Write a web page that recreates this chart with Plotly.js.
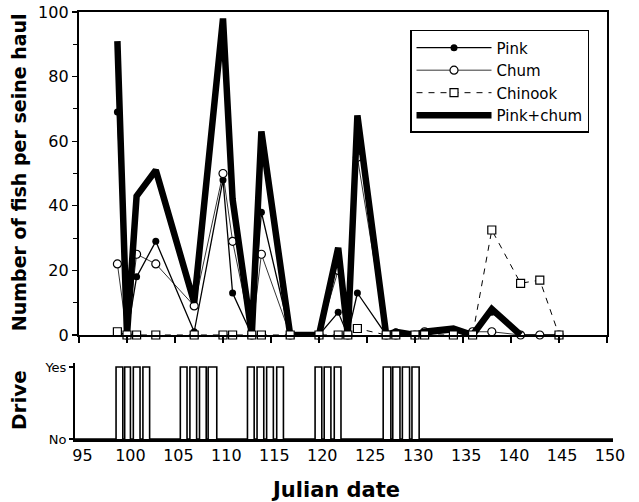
<!DOCTYPE html>
<html><head><meta charset="utf-8">
<script src="https://cdn.plot.ly/plotly-3.0.1.min.js"></script>
<style>html,body{margin:0;padding:0;background:#fff}#chart{width:639px;height:502px}</style>
</head><body><div id="chart"></div>
<script>
// Sampling days (Julian date)
const days = [99,100,101,103,107,110,111,113,114,117,120,122,123,124,127,128,130,131,134,136,138,141,143,145];
const pink     = [69,0,18,29,1,48,13,0,38,0,0,7,0,13,0,1,0,0,1,0,7,0,0,0];
const chum     = [22,0,25,22,9,50,29,0,25,0,0,20,0,55,0,0,0,1,1,1,1,0,0,0];
const chinook  = [1,0,0,0,0,0,0,0,0,0,0,0,0,2,0,0,0,0,0,0,32.5,16,17,0];
const pcDays   = [99,100,101,103,107,110,111,113,114,117,120,122,123,124,127,128,130,131,134,136,138,141];
const pinkChum = [91,0,43,51,10,98,42,0,63,0,0,27,0,68,0,1,0,1,2,0,8,0];
// Drive = Yes intervals [start, end]
const driveStart = [98.5,99.4,100.3,101.3,105.2,106.2,107.2,108.1,112.2,113.2,114.2,115.25,119.25,120.2,121.25,126.35,127.35,128.35,129.35];
const driveEnd   = [99.2,100.0,101.0,102.0,105.9,106.9,107.9,109.0,112.9,113.9,114.9,115.95,119.95,120.9,121.95,127.15,128.1,129.1,130.1];
const xTicks = [95,100,105,110,115,120,125,130,135,140,145,150];
const yTicks = [0,20,40,60,80,100];

const FONT = "DejaVu Sans, sans-serif";
const xMin2 = 94.22, xMax2 = 150.31;
const dx = [xMin2], dy = [0];
for (let i = 0; i < driveStart.length; i++) {
  dx.push(driveStart[i], driveStart[i], driveEnd[i], driveEnd[i]);
  dy.push(0, 1, 1, 0);
}
dx.push(xMax2); dy.push(0);

const traces = [
  {x: days, y: pink, name: 'Pink', mode: 'lines+markers', legendrank: 1,
   line: {color: '#000', width: 1.3}, marker: {symbol: 'circle', size: 7, color: '#000'},
   xaxis: 'x', yaxis: 'y', cliponaxis: false},
  {x: days, y: chum, name: 'Chum', mode: 'lines+markers', legendrank: 2,
   line: {color: '#000', width: 0.8}, marker: {symbol: 'circle', size: 8, color: '#fff', line: {color: '#000', width: 1.2}},
   xaxis: 'x', yaxis: 'y', cliponaxis: false},
  {x: pcDays, y: pinkChum, name: 'Pink+chum', mode: 'lines', legendrank: 4,
   line: {color: '#000', width: 6.5}, xaxis: 'x', yaxis: 'y', cliponaxis: false},
  {x: days, y: chinook, name: 'Chinook', mode: 'lines+markers', legendrank: 3,
   line: {color: '#000', width: 1, dash: '6px,6px'}, marker: {symbol: 'square', size: 8, color: '#fff', line: {color: '#000', width: 1.2}},
   xaxis: 'x', yaxis: 'y', cliponaxis: false},
  {x: dx, y: dy, mode: 'lines', showlegend: false, line: {color: '#000', width: 1.6},
   xaxis: 'x2', yaxis: 'y2', cliponaxis: false, hoverinfo: 'skip'}
];

const layout = {
  width: 639, height: 502,
  margin: {l: 75, r: 26, t: 12, b: 63},
  paper_bgcolor: '#fff', plot_bgcolor: 'rgba(0,0,0,0)',
  font: {family: FONT, color: '#000', size: 16},
  showlegend: true,
  legend: {x: 0.6227, y: 0.958, xanchor: 'left', yanchor: 'top', bgcolor: '#fff',
           bordercolor: '#000', borderwidth: 1.5, font: {family: FONT, size: 15},
           tracegroupgap: 0, itemwidth: 75},
  xaxis: {domain: [0.00743, 0.98885], range: [95, 150], anchor: 'y',
          showline: true, linecolor: '#000', linewidth: 2.5, mirror: true,
          ticks: 'outside', ticklen: 6, tickwidth: 1.2, tickcolor: '#000',
          tickvals: xTicks, showticklabels: false, showgrid: false, zeroline: false},
  yaxis: {domain: [0.2436, 1], range: [0, 100], anchor: 'x',
          showline: true, linecolor: '#000', linewidth: 2.2, mirror: true,
          ticks: 'outside', ticklen: 5, tickwidth: 1.2, tickcolor: '#000',
          tickvals: yTicks, ticktext: yTicks.map(String),
          minor: {dtick: 10, ticks: 'outside', ticklen: 4, tickcolor: '#000', tickwidth: 1},
          tickfont: {family: FONT, size: 16}, showgrid: false, zeroline: false},
  xaxis2: {domain: [0, 1], range: [xMin2, xMax2], anchor: 'y2',
           showline: true, linecolor: '#000', linewidth: 2.5,
           ticks: '', tickvals: xTicks, ticktext: xTicks.map(String),
           tickfont: {family: FONT, size: 16}, showgrid: false, zeroline: false},
  yaxis2: {domain: [0, 0.178], range: [0, 1.0556], anchor: 'x2',
           showline: true, linecolor: '#000', linewidth: 2,
           ticks: 'outside', ticklen: 4, tickwidth: 1.2, tickcolor: '#000',
           tickvals: [0, 1], ticktext: ['No', 'Yes'],
           tickfont: {family: FONT, size: 13}, showgrid: false, zeroline: false},
  annotations: [
    {text: '<b>Number of fish per seine haul</b>', xref: 'paper', yref: 'paper',
     x: -0.104, y: 0.625, xanchor: 'center', yanchor: 'middle', textangle: -90,
     showarrow: false, font: {family: FONT, size: 19}},
    {text: '<b>Drive</b>', xref: 'paper', yref: 'paper',
     x: -0.104, y: 0.0913, xanchor: 'center', yanchor: 'middle', textangle: -90,
     showarrow: false, font: {family: FONT, size: 20}},
    {text: '<b>Julian date</b>', xref: 'paper', yref: 'paper',
     x: 0.485, y: -0.119, xanchor: 'center', yanchor: 'middle',
     showarrow: false, font: {family: FONT, size: 21}}
  ]
};

Plotly.newPlot('chart', traces, layout, {staticPlot: true, displayModeBar: false});
</script></body></html>
